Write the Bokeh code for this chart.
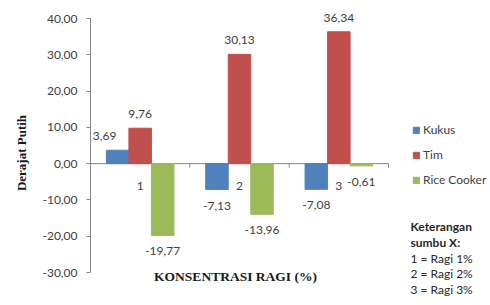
import numpy as np
from bokeh.plotting import figure
from bokeh.models import ColumnDataSource, FixedTicker, Legend, LegendItem
from bokeh.core.properties import value
from bokeh.embed import file_html
from bokeh.resources import INLINE

# ---- data ----
categories = ["1", "2", "3"]
kukus = [3.69, -7.13, -7.08]
tim = [9.76, 30.13, 36.34]
rice_cooker = [-19.77, -13.96, -0.61]
series_names = ["Kukus", "Tim", "Rice Cooker"]
y_ticks = [-30, -20, -10, 0, 10, 20, 30, 40]
x_title = "KONSENTRASI RAGI (%)"
y_title = "Derajat Putih"
note_lines = ["Keterangan", "sumbu X:", "1 = Ragi 1%", "2 = Ragi 2%", "3 = Ragi 3%"]

# ---- style / geometry ----
colors = ["#4F81BD", "#C0504D", "#9BBB59"]
offsets = [-0.2266, 0.0, 0.2266]
bar_w = 0.2266
label_dx = [[-13, 0, 0], [0, 0, 0], [0, 0, 0]]
TXT = "#404040"
AX = "#868686"
SANS = "Lato"
SERIF = "Liberation Serif"

W, H = 490, 305
LEFT = 90                      # plot-area left edge (px)
Y_TOP_PX, Y_BOT_PX = 18, 272   # pixel rows of the axis ends
y_lo, y_hi = min(y_ticks), max(y_ticks)
k = (Y_BOT_PX - Y_TOP_PX) / (y_hi - y_lo)      # px per unit
cw = 298 / len(categories)                     # px per category
x_start = 0.5
x_end = x_start + (W - LEFT) / cw
y_end = y_hi + Y_TOP_PX / k
y_start = y_lo - (H - Y_BOT_PX) / k


def fmt(v):
    return f"{v:.2f}".replace(".", ",")


p = figure(width=W, height=H, x_range=(x_start, x_end), y_range=(y_start, y_end),
           output_backend="svg", toolbar_location=None, x_axis_location=None,
           min_border_left=LEFT, min_border_right=0,
           min_border_top=0, min_border_bottom=0)
p.outline_line_color = None
p.grid.visible = False

# y axis
p.yaxis.bounds = (y_lo, y_hi)
p.yaxis.ticker = FixedTicker(ticks=y_ticks)
p.yaxis.major_label_overrides = {t: fmt(t) for t in y_ticks}
p.yaxis.major_label_text_font = SANS
p.yaxis.major_label_text_font_size = "12px"
p.yaxis.major_label_text_color = TXT
p.yaxis.major_tick_in = 0
p.yaxis.major_tick_out = 4
p.yaxis.minor_tick_line_color = None
p.yaxis.axis_line_color = AX
p.yaxis.major_tick_line_color = AX
p.yaxis.major_label_standoff = 9
p.yaxis.axis_label = y_title
p.yaxis.axis_label_text_font = SERIF
p.yaxis.axis_label_text_font_style = "bold"
p.yaxis.axis_label_text_font_size = "13px"
p.yaxis.axis_label_text_color = "#1a1a1a"
p.yaxis.axis_label_standoff = 10

xs = np.arange(1, len(categories) + 1)

# category axis line at zero with boundary ticks
n = len(categories)
p.segment(x0=[0.5], y0=[0], x1=[n + 0.5], y1=[0], line_color=AX, line_width=1)
bnd = xs + 0.5
p.segment(x0=bnd, y0=[0] * n, x1=bnd, y1=[-4 / k] * n, line_color=AX, line_width=1)

items = []
for i, (name, vals) in enumerate(zip(series_names, [kukus, tim, rice_cooker])):
    src = ColumnDataSource(dict(
        x=xs + offsets[i], top=vals,
        label=[fmt(v) for v in vals],
        yo=[-14 if v >= 0 else 16 for v in vals],
        xo=label_dx[i],
    ))
    r = p.vbar(x="x", top="top", bottom=0, width=bar_w, source=src,
               fill_color=colors[i], line_color=colors[i])
    p.text(x="x", y="top", text="label", x_offset="xo", y_offset="yo", source=src,
           text_align="center", text_baseline="middle",
           text_font=value(SANS), text_font_size="12px", text_color=TXT)
    items.append(LegendItem(label=name, renderers=[r]))

# category labels near the zero line
p.text(x=xs, y=[0] * n, text=categories, y_offset=22,
       text_align="center", text_baseline="middle",
       text_font=value(SANS), text_font_size="12px", text_color=TXT)

legend = Legend(items=items, location=(322, 118), padding=0, margin=0,
                spacing=10, glyph_width=8, glyph_height=8, label_height=12,
                label_standoff=3, label_text_font=SANS, label_text_font_size="12px",
                label_text_color=TXT, border_line_color=None, background_fill_alpha=0)
p.add_layout(legend)

# x-axis title
p.text(x=[(n + 1) / 2], y=[y_lo], text=[x_title], x_offset=-4, y_offset=4,
       text_align="center", text_baseline="middle",
       text_font=value(SERIF), text_font_style="bold", text_font_size="13.5px",
       text_color="#1a1a1a")

# note block
p.text(x=[n + 0.5] * len(note_lines), y=[y_lo] * len(note_lines), text=note_lines,
       x_offset=22, y_offset=[-46, -30, -14, 1, 17],
       text_align="left", text_baseline="middle",
       text_font=value(SANS), text_font_size="12px",
       text_font_style=["bold", "bold", "normal", "normal", "normal"],
       text_color="#262626")

open("out.html", "w").write(file_html(p, INLINE))
